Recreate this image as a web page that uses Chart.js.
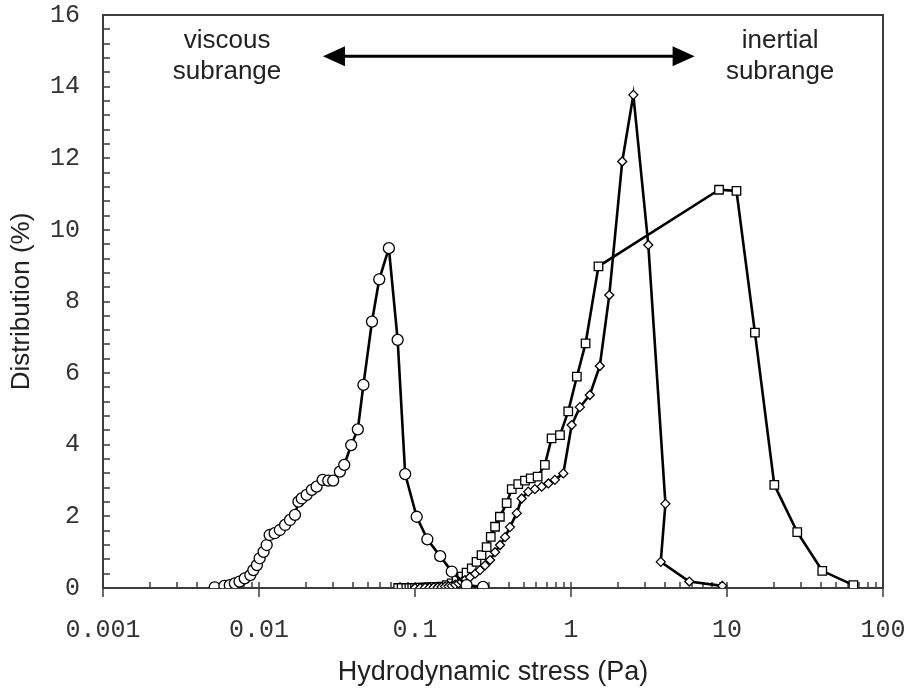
<!DOCTYPE html>
<html>
<head>
<meta charset="utf-8">
<title>Hydrodynamic stress distribution</title>
<script src="https://cdn.jsdelivr.net/npm/chart.js@4.4.1/dist/chart.umd.min.js"></script>
<style>
  html, body { margin: 0; padding: 0; background: #fff; }
  #wrap { width: 906px; height: 691px; }
</style>
</head>
<body>
<div id="wrap"><canvas id="stress-chart" width="906" height="691"></canvas></div>
<script>
// values (x in Pa, y in %)
const circleX = [0.0052, 0.0060, 0.0065, 0.0070, 0.0075, 0.0081, 0.0088, 0.0092, 0.0097, 0.0101,
                 0.0107, 0.0112, 0.0117, 0.0126, 0.0136, 0.0147, 0.0158, 0.0170, 0.0179, 0.0188,
                 0.0202, 0.0218, 0.0234, 0.0256, 0.0278, 0.0299, 0.0330, 0.0352, 0.0390, 0.0430,
                 0.0467, 0.0530, 0.0590, 0.0680, 0.0774, 0.0865, 0.1025, 0.1200, 0.1450, 0.1720,
                 0.2140, 0.2730];
const circleY = [0.02, 0.06, 0.08, 0.13, 0.18, 0.27, 0.36, 0.50, 0.64, 0.83,
                 1.01, 1.20, 1.48, 1.53, 1.62, 1.76, 1.90, 2.04, 2.41, 2.50,
                 2.60, 2.74, 2.83, 3.02, 3.00, 3.00, 3.25, 3.44, 3.99, 4.43,
                 5.67, 7.44, 8.62, 9.49, 6.93, 3.18, 1.99, 1.36, 0.89, 0.46,
                 0.08, 0.03];

const diamondX = [0.100, 0.108, 0.116, 0.124, 0.132, 0.140, 0.148, 0.156, 0.164, 0.172,
                  0.181, 0.190, 0.199, 0.209, 0.225, 0.243, 0.261, 0.281, 0.303, 0.326,
                  0.351, 0.378, 0.406, 0.449, 0.483, 0.532, 0.587, 0.649, 0.716, 0.788,
                  0.893, 1.01, 1.14, 1.32, 1.53, 1.76, 2.13, 2.51, 3.13, 4.03,
                  3.76, 5.73, 9.33];
const diamondY = [0.00, 0.00, 0.01, 0.01, 0.02, 0.02, 0.03, 0.04, 0.05, 0.06,
                  0.09, 0.13, 0.17, 0.22, 0.30, 0.40, 0.50, 0.63, 0.78, 1.00,
                  1.20, 1.42, 1.70, 2.09, 2.50, 2.69, 2.76, 2.83, 2.92, 3.02,
                  3.20, 4.55, 5.05, 5.39, 6.20, 8.18, 11.91, 13.77, 9.58, 2.35,
                  0.73, 0.18, 0.06];

const squareX = [0.078, 0.082, 0.088, 0.092, 0.096, 0.100, 0.104, 0.108, 0.113, 0.118,
                 0.123, 0.128, 0.134, 0.141, 0.148, 0.160, 0.172, 0.185, 0.200, 0.214,
                 0.231, 0.248, 0.267, 0.288, 0.306, 0.326, 0.350, 0.387, 0.417, 0.459,
                 0.507, 0.552, 0.611, 0.680, 0.751, 0.850, 0.960, 1.09, 1.24, 1.50,
                 8.89, 11.5, 15.1, 20.1, 28.2, 40.8, 64.6];
const squareY = [0.00, 0.00, 0.00, 0.00, 0.00, 0.00, 0.00, 0.01, 0.01, 0.01,
                 0.02, 0.02, 0.03, 0.03, 0.04, 0.08, 0.13, 0.22, 0.32, 0.43,
                 0.55, 0.73, 0.92, 1.14, 1.43, 1.71, 1.99, 2.37, 2.76, 2.90,
                 3.00, 3.06, 3.11, 3.44, 4.18, 4.27, 4.93, 5.90, 6.83, 8.98,
                 11.12, 11.09, 7.13, 2.88, 1.56, 0.48, 0.08];

const xDecades = [0.001, 0.01, 0.1, 1, 10, 100];
const yLabelValues = [0, 2, 4, 6, 8, 10, 12, 14, 16];
const yMinorStep = 0.4;

const monoFont = "'Liberation Mono', 'Courier New', monospace";
const sansFont = "'Liberation Sans', Arial, sans-serif";

function isDecade(v) {
  const l = Math.log10(v);
  return Math.abs(l - Math.round(l)) < 1e-9;
}

// 1..9 x each decade, then the last decade
const xTickValues = [];
xDecades.slice(0, -1).forEach(d => {
  for (let m = 1; m <= 9; m++) xTickValues.push(+(m * d).toPrecision(3));
});
xTickValues.push(xDecades[xDecades.length - 1]);

const yTickValues = [];
for (let v = 0; v <= 16 + 1e-9; v += yMinorStep) yTickValues.push(+v.toFixed(1));

function pts(xs, ys) {
  return xs.map((x, i) => ({x: x, y: ys[i]}));
}

// frame + inward ticks, drawn under the data
const frameTicks = {
  id: 'frameTicks',
  beforeDatasetsDraw(chart) {
    const {ctx, chartArea: a, scales: {x, y}} = chart;
    ctx.save();
    ctx.strokeStyle = '#3c3c3c';
    ctx.lineWidth = 2;
    ctx.strokeRect(a.left, a.top, a.right - a.left, a.bottom - a.top);
    ctx.lineWidth = 1.5;
    ctx.beginPath();
    y.ticks.forEach(t => {
      const py = Math.round(y.getPixelForValue(t.value));
      ctx.moveTo(a.left, py);
      ctx.lineTo(a.left + 7, py);
    });
    x.ticks.forEach(t => {
      const px = Math.round(x.getPixelForValue(t.value));
      ctx.moveTo(px, a.bottom - 6);
      ctx.lineTo(px, isDecade(t.value) ? a.bottom + 9 : a.bottom);
    });
    ctx.stroke();
    ctx.restore();
  }
};

// subrange notes and the double arrow
const notes = {
  id: 'notes',
  afterDatasetsDraw(chart, args, opts) {
    const {ctx, scales: {x, y}} = chart;
    ctx.save();
    ctx.fillStyle = '#222';
    ctx.font = '26px ' + sansFont;
    ctx.textAlign = 'center';
    ctx.textBaseline = 'alphabetic';
    opts.labels.forEach(l => {
      const px = x.getPixelForValue(l.x);
      const py = y.getPixelForValue(l.y);
      l.lines.forEach((s, i) => ctx.fillText(s, px, py + i * 31));
    });
    const ar = opts.arrow;
    const x1 = x.getPixelForValue(ar.from), x2 = x.getPixelForValue(ar.to);
    const ay = y.getPixelForValue(ar.y);
    const head = 22, half = 10;
    ctx.strokeStyle = '#000';
    ctx.fillStyle = '#000';
    ctx.lineWidth = 3;
    ctx.beginPath();
    ctx.moveTo(x1 + head - 2, ay);
    ctx.lineTo(x2 - head + 2, ay);
    ctx.stroke();
    ctx.beginPath();
    ctx.moveTo(x1, ay);
    ctx.lineTo(x1 + head, ay - half);
    ctx.lineTo(x1 + head, ay + half);
    ctx.closePath();
    ctx.moveTo(x2, ay);
    ctx.lineTo(x2 - head, ay - half);
    ctx.lineTo(x2 - head, ay + half);
    ctx.closePath();
    ctx.fill();
    ctx.restore();
  }
};

function series(data, style, radius) {
  return {
    data: data,
    borderColor: '#000',
    borderWidth: 2.6,
    pointStyle: style,
    pointRadius: radius,
    pointBackgroundColor: '#fff',
    pointBorderColor: '#000',
    pointBorderWidth: 1.3,
    tension: 0,
    fill: false
  };
}

new Chart(document.getElementById('stress-chart'), {
  type: 'line',
  data: {
    datasets: [
      series(pts(circleX, circleY), 'circle', 5.5),
      series(pts(diamondX, diamondY), 'rectRot', 4.5),
      series(pts(squareX, squareY), 'rect', 6)
    ]
  },
  options: {
    responsive: false,
    animation: false,
    devicePixelRatio: 1,
    layout: { padding: { top: 15, right: 23, bottom: 0, left: 0 } },
    plugins: {
      legend: { display: false },
      tooltip: { enabled: false },
      notes: {
        labels: [
          { x: 0.00624, y: 15.08, lines: ['viscous', 'subrange'] },
          { x: 21.9, y: 15.08, lines: ['inertial', 'subrange'] }
        ],
        arrow: { from: 0.0257, to: 6.2, y: 14.85 }
      }
    },
    scales: {
      x: {
        type: 'logarithmic',
        min: xDecades[0],
        max: xDecades[xDecades.length - 1],
        afterBuildTicks: s => { s.ticks = xTickValues.map(v => ({ value: v })); },
        afterFit: s => { s.height = 103; s.paddingLeft = 0; s.paddingRight = 0; },
        grid: { display: false, drawTicks: false },
        border: { display: false },
        ticks: {
          autoSkip: false,
          maxRotation: 0,
          padding: 27,
          color: '#333',
          font: { family: monoFont, size: 25, lineHeight: 1.2 },
          callback: v => isDecade(v) ? String(v) : ''
        },
        title: {
          display: true,
          text: 'Hydrodynamic stress (Pa)',
          color: '#222',
          font: { family: sansFont, size: 27, lineHeight: 1.2 },
          padding: { top: 11.8, bottom: 1.8 }
        }
      },
      y: {
        min: 0,
        max: 16,
        afterBuildTicks: s => { s.ticks = yTickValues.map(v => ({ value: v })); },
        afterFit: s => { s.width = 103; s.paddingTop = 0; s.paddingBottom = 0; },
        grid: { display: false, drawTicks: false },
        border: { display: false },
        ticks: {
          autoSkip: false,
          padding: 23,
          color: '#333',
          font: { family: monoFont, size: 25, lineHeight: 1.2 },
          callback: v => yLabelValues.includes(v) ? String(v) : ''
        },
        title: {
          display: true,
          text: 'Distribution (%)',
          color: '#222',
          font: { family: sansFont, size: 26, lineHeight: 1.2 },
          padding: { top: 6.4, bottom: 12.4 }
        }
      }
    }
  },
  plugins: [frameTicks, notes]
});
</script>
</body>
</html>
